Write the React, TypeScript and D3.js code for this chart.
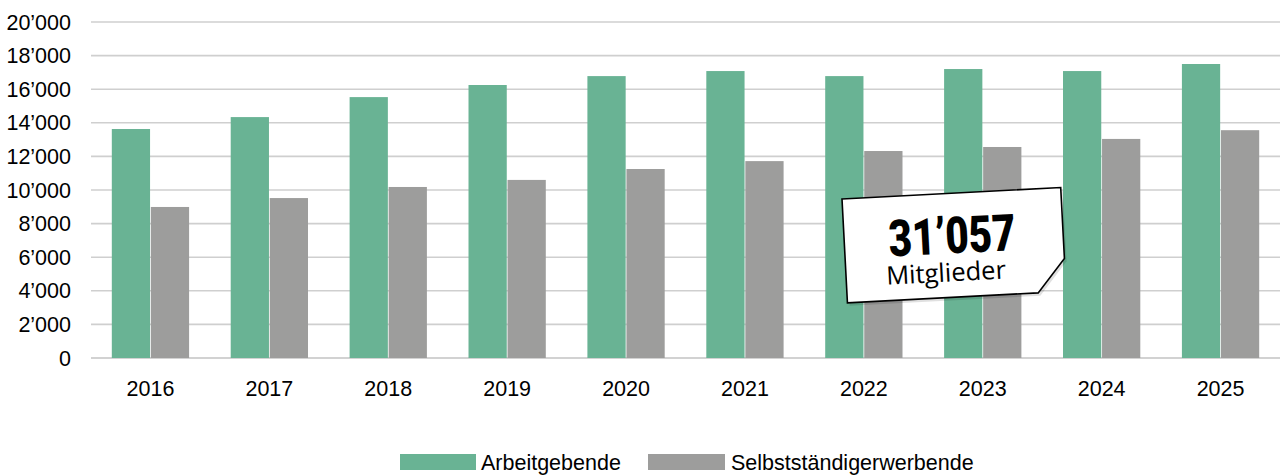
import React from "react";
import * as d3 from "d3";

const width = 1283;
const height = 476;
const margin = { top: 22, right: 3, bottom: 118, left: 91 };

const years = ["2016", "2017", "2018", "2019", "2020", "2021", "2022", "2023", "2024", "2025"];
const seriesNames = ["Arbeitgebende", "Selbstständigerwerbende"];
const arbeitgebende = [13630, 14340, 15530, 16250, 16780, 17080, 16780, 17200, 17080, 17500];
const selbststaendige = [8990, 9520, 10180, 10600, 11250, 11720, 12320, 12560, 13040, 13560];
const colors = ["#69B394", "#9D9D9C"];
const yTicks = [0, 2000, 4000, 6000, 8000, 10000, 12000, 14000, 16000, 18000, 20000];
const totalLabel = "31’057";
const totalCaption = "Mitglieder";

const fmt = (v: number) => (v >= 1000 ? `${Math.floor(v / 1000)}’${String(v % 1000).padStart(3, "0")}` : String(v));

const App = () => {
  const x0 = d3
    .scaleBand<string>()
    .domain(years)
    .range([margin.left, width - margin.right])
    .paddingInner(0.35)
    .paddingOuter(0.175);

  const x1 = d3
    .scaleBand<string>()
    .domain(seriesNames)
    .range([0, x0.bandwidth()])
    .paddingInner(0.02);

  const y = d3
    .scaleLinear()
    .domain([0, 20000])
    .range([358, margin.top]);

  const values = [arbeitgebende, selbststaendige];
  const font = "'Liberation Sans', Arial, sans-serif";

  return (
    <svg width={width} height={height} style={{ display: "block", position: "absolute", left: 0, top: 0 }}>
      <rect width={width} height={height} fill="#fff" />
      {/* gridlines + y labels */}
      {yTicks.map((t) => (
        <g key={t}>
          <line
            x1={margin.left}
            x2={width - margin.right}
            y1={y(t)}
            y2={y(t)}
            stroke={t === 0 ? "#a6a6a6" : "#cfcfcf"}
            strokeWidth={t === 0 ? 1.2 : 1.6}
          />
          <text x={71} y={y(t) + 7.5} textAnchor="end" fontFamily={font} fontSize={21.5} fill="#000">
            {fmt(t)}
          </text>
        </g>
      ))}

      {/* bars */}
      {years.map((yr, i) => (
        <g key={yr} transform={`translate(${x0(yr)},0)`}>
          {seriesNames.map((s, j) => (
            <rect
              key={s}
              x={x1(s)}
              y={y(values[j][i])}
              width={x1.bandwidth()}
              height={y(0) - y(values[j][i])}
              fill={colors[j]}
            />
          ))}
          <text
            x={x0.bandwidth() / 2}
            y={396}
            textAnchor="middle"
            fontFamily={font}
            fontSize={21.5}
            fill="#000"
          >
            {yr}
          </text>
        </g>
      ))}

      {/* callout */}
      <g transform="translate(842,199) rotate(-3)">
        <polygon points="2,3 221,3 221,74 193,107 2,107" fill="#000" opacity={0.12} />
        <polygon points="0,0 219,0 219,71 191,104 0,104" fill="#fff" stroke="#000" strokeWidth={1.6} />
        <text
          x={108}
          y={60}
          textAnchor="middle"
          fontFamily="Roboto, 'DejaVu Sans', sans-serif"
          fontWeight={900}
          fontSize={51}
          textLength={127}
          lengthAdjust="spacingAndGlyphs"
          fill="#000"
        >
          {totalLabel}
        </text>
        <text
          x={100}
          y={88}
          textAnchor="middle"
          fontFamily="'Open Sans', 'Noto Sans', sans-serif"
          fontSize={25.5}
          fill="#000"
        >
          {totalCaption}
        </text>
      </g>

      {/* legend */}
      <g>
        <rect x={400} y={454} width={76} height={16} fill={colors[0]} />
        <text x={481} y={470} fontFamily={font} fontSize={21.5} fill="#000">
          {seriesNames[0]}
        </text>
        <rect x={648} y={454} width={77} height={16} fill={colors[1]} />
        <text x={731} y={470} fontFamily={font} fontSize={21.5} fill="#000">
          {seriesNames[1]}
        </text>
      </g>
    </svg>
  );
};

export default App;
